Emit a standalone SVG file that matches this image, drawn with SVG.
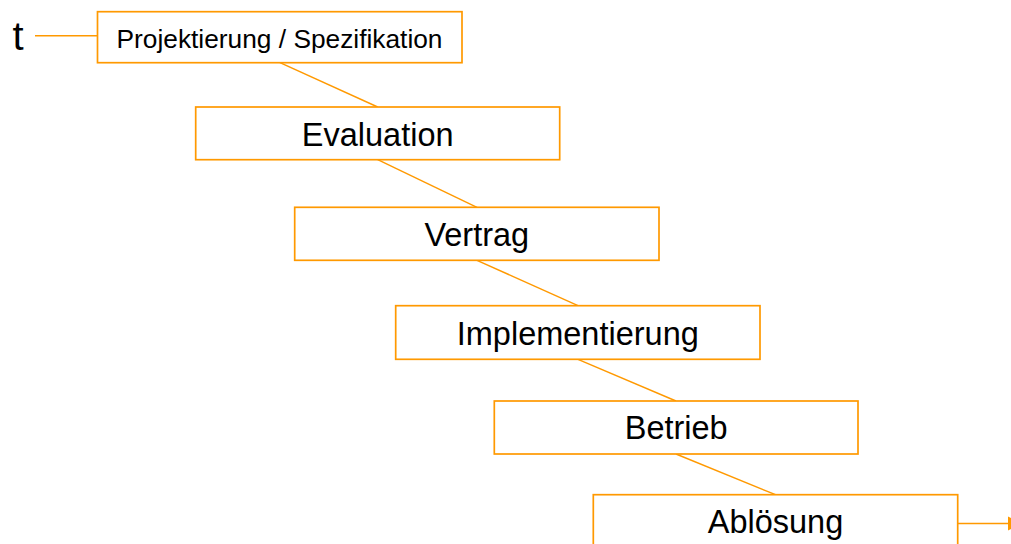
<svg xmlns="http://www.w3.org/2000/svg" width="1011" height="544" viewBox="0 0 1011 544">
  <style>
    .box { fill: #FFFFFF; stroke: #FF9900; stroke-width: 1.7; }
    .conn { stroke: #FF9900; stroke-width: 1.4; fill: none; }
    .lbl { font-family: "Liberation Sans", Arial, Helvetica, sans-serif; fill: #000000; text-anchor: middle; }
    .big { font-size: 32.5px; }
    .small { font-size: 26.3px; }
  </style>
  <rect width="1011" height="544" fill="#FFFFFF"/>
  <g id="connectors">
    <line class="conn" x1="35" y1="35.7" x2="97.5" y2="35.7"/>
    <line class="conn" x1="280" y1="62.7" x2="377.7" y2="107"/>
    <line class="conn" x1="377.7" y1="159.7" x2="477" y2="207.3"/>
    <line class="conn" x1="477" y1="260.3" x2="578" y2="305.7"/>
    <line class="conn" x1="578" y1="359.3" x2="676" y2="401"/>
    <line class="conn" x1="676" y1="454" x2="775.5" y2="494.7"/>
    <line class="conn" x1="957.7" y1="523.5" x2="1009" y2="523.5"/>
    <polygon points="1008,516.5 1022,523.5 1008,530.5" fill="#FF9900"/>
  </g>
  <g id="t-label">
    <text class="lbl" x="18" y="50" style="font-size:40px">t</text>
  </g>
  <g id="node-projektierung">
    <rect class="box" x="97.5" y="11.7" width="364.5" height="51"/>
    <text class="lbl small" x="279.5" y="48.3">Projektierung / Spezifikation</text>
  </g>
  <g id="node-evaluation">
    <rect class="box" x="195.7" y="107" width="364" height="52.7"/>
    <text class="lbl big" x="377.7" y="146">Evaluation</text>
  </g>
  <g id="node-vertrag">
    <rect class="box" x="294.7" y="207.3" width="364.3" height="53"/>
    <text class="lbl big" x="476.8" y="246">Vertrag</text>
  </g>
  <g id="node-implementierung">
    <rect class="box" x="395.7" y="305.7" width="364.3" height="53.6"/>
    <text class="lbl big" x="577.8" y="345">Implementierung</text>
  </g>
  <g id="node-betrieb">
    <rect class="box" x="494.3" y="401" width="363.7" height="53"/>
    <text class="lbl big" x="676.2" y="439">Betrieb</text>
  </g>
  <g id="node-abloesung">
    <rect class="box" x="593.3" y="494.7" width="364.4" height="53"/>
    <text class="lbl big" x="775.5" y="533.3">Ablösung</text>
  </g>
</svg>
